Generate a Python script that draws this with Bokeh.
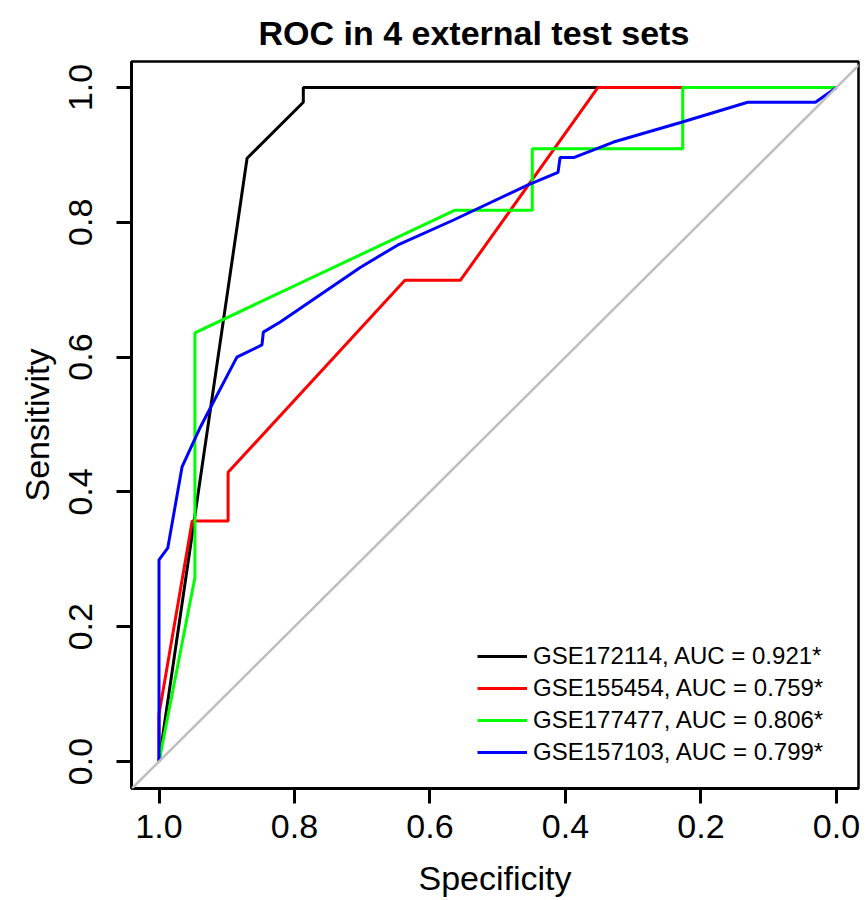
from bokeh.plotting import figure
from bokeh.models import Range1d, FixedTicker, PrintfTickFormatter, Slope, Legend, LegendItem
from bokeh.embed import file_html
from bokeh.resources import INLINE

# ---- data ----
tick_values = [1.0, 0.8, 0.6, 0.4, 0.2, 0.0]

gse172114_spec = [1.0, 0.870, 0.787, 0.787, 0.0]
gse172114_sens = [0.0, 0.895, 0.978, 1.0, 1.0]

gse155454_spec = [1.0, 1.0, 0.951, 0.898, 0.898, 0.637, 0.555, 0.352, 0.0]
gse155454_sens = [0.0, 0.07, 0.357, 0.357, 0.429, 0.714, 0.714, 1.0, 1.0]

gse177477_spec = [1.0, 0.947, 0.947, 0.563, 0.449, 0.449, 0.227, 0.227, 0.0]
gse177477_sens = [0.0, 0.273, 0.636, 0.818, 0.818, 0.909, 0.909, 1.0, 1.0]

gse157103_spec = [1.0, 1.0, 0.987, 0.966, 0.939, 0.922, 0.885, 0.848, 0.846, 0.821,
                  0.703, 0.648, 0.566, 0.456, 0.411, 0.408, 0.388, 0.329, 0.230,
                  0.131, 0.031, 0.0]
gse157103_sens = [0.0, 0.299, 0.317, 0.437, 0.496, 0.529, 0.600, 0.618, 0.637, 0.652,
                  0.733, 0.766, 0.803, 0.855, 0.874, 0.896, 0.896, 0.919, 0.948,
                  0.978, 0.978, 1.0]

legend_labels = ["GSE172114, AUC = 0.921*", "GSE155454, AUC = 0.759*",
                 "GSE177477, AUC = 0.806*", "GSE157103, AUC = 0.799*"]

series_spec = [gse172114_spec, gse155454_spec, gse177477_spec, gse157103_spec]
series_sens = [gse172114_sens, gse155454_sens, gse177477_sens, gse157103_sens]
series_colors = ["#000000", "#FF0000", "#00FF00", "#0000FF"]

FONT = "Liberation Sans"

p = figure(width=862, height=899, output_backend="svg", toolbar_location=None,
           x_range=Range1d(1.0406, -0.0325), y_range=Range1d(-0.04, 1.0385),
           min_border_left=131, min_border_right=4, min_border_top=61,
           min_border_bottom=110)

p.title.text = "ROC in 4 external test sets"
p.title.text_font = FONT
p.title.text_font_size = "34px"
p.title.text_font_style = "bold"
p.title.text_color = "black"
p.title.align = "left"
p.title.offset = 127
p.title.standoff = 19

p.xgrid.visible = False
p.ygrid.visible = False
p.outline_line_color = "black"
p.outline_line_width = 2.5
p.outline_line_alpha = 1.0
p.background_fill_color = "white"

p.xaxis.axis_label = "Specificity"
p.yaxis.axis_label = "Sensitivity"
p.xaxis.ticker = FixedTicker(ticks=tick_values)
p.yaxis.ticker = FixedTicker(ticks=tick_values)
for ax in (p.xaxis[0], p.yaxis[0]):
    ax.formatter = PrintfTickFormatter(format="%.1f")
    ax.axis_line_width = 3
    ax.axis_line_color = "black"
    ax.major_tick_line_width = 3
    ax.major_tick_line_color = "black"
    ax.major_tick_out = 15
    ax.major_tick_in = 0
    ax.minor_tick_line_color = None
    ax.major_label_text_font = FONT
    ax.major_label_text_font_size = "34px"
    ax.major_label_text_color = "black"
    ax.axis_label_text_font = FONT
    ax.axis_label_text_font_size = "34px"
    ax.axis_label_text_font_style = "normal"
    ax.axis_label_text_color = "black"

p.xaxis.major_label_standoff = 11
p.xaxis.axis_label_standoff = 18
p.yaxis.major_label_orientation = "vertical"
p.yaxis.major_label_standoff = 24
p.yaxis.axis_label_standoff = 11

# identity line
p.add_layout(Slope(gradient=-1, y_intercept=1, line_color="#BEBEBE", line_width=2.5))

renderers = []
for xs, ys, c in zip(series_spec, series_sens, series_colors):
    r = p.line(xs, ys, line_color=c, line_width=3)
    renderers.append(r)

legend = Legend(items=[LegendItem(label=lab, renderers=[r]) for lab, r in zip(legend_labels, renderers)],
                location=(346, 20), label_text_font=FONT, label_text_font_size="24px",
                label_text_color="black", glyph_width=50, glyph_height=32, label_height=32,
                label_standoff=6, spacing=0, padding=0, margin=0,
                border_line_alpha=0, background_fill_alpha=0)
p.add_layout(legend)

open("out.html", "w").write(file_html(p, INLINE))
